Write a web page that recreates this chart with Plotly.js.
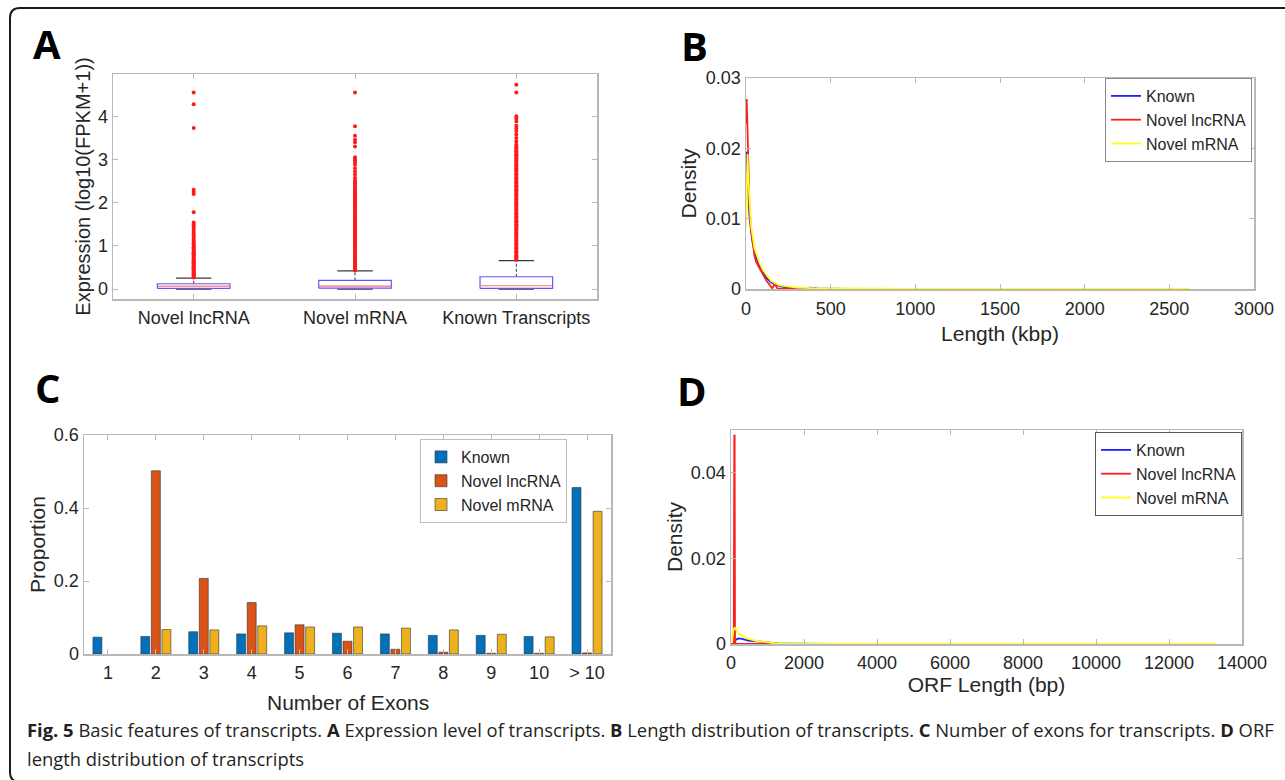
<!DOCTYPE html>
<html>
<head>
<meta charset="utf-8">
<script src="https://cdn.plot.ly/plotly-3.0.1.min.js"></script>
<style>html,body{margin:0;padding:0;background:#fff;}#chart{width:1285px;height:780px;}</style>
</head>
<body>
<div id="chart"></div>
<script>
// ---------------- DATA ----------------
// Panel A: expression boxplots (log10(FPKM+1))
const boxCategories = ["Novel lncRNA", "Novel mRNA", "Known Transcripts"];
const boxQ1 = [0.015, 0.023, 0.015];
const boxMedian = [0.07, 0.07, 0.077];
const boxQ3 = [0.123, 0.20, 0.285];
const boxWhiskerLow = [0, 0, 0];
const boxWhiskerHigh = [0.254, 0.423, 0.66];
const outliersLncRNA = [4.55, 4.28, 3.73, 2.30, 2.25, 2.20, 1.78, 1.54, 1.50, 1.46, 1.42, 1.37, 1.32, 1.27, 1.23, 1.19, 1.14, 1.10, 1.06, 1.03, 1.00, 0.97, 0.94, 0.91, 0.88, 0.85, 0.83, 0.81, 0.79, 0.77, 0.75, 0.72, 0.70, 0.68, 0.66, 0.64, 0.62, 0.60, 0.58, 0.56, 0.54, 0.52, 0.50, 0.48, 0.46, 0.44, 0.42, 0.40, 0.38, 0.36, 0.34, 0.32, 0.30, 0.28, 0.27];
const outliersMRNA = [4.55, 3.77, 3.55, 3.46, 3.40, 3.30, 3.05, 3.02, 2.98, 2.93, 2.88, 2.80, 2.72, 2.65, 2.58, 2.52, 2.48, 2.45, 2.40, 2.36, 2.32, 2.28, 2.25, 2.23,
  2.21, 2.18, 2.15, 2.13, 2.10, 2.06, 2.04, 2.01, 1.97, 1.95, 1.92, 1.88, 1.86, 1.83, 1.79, 1.77, 1.74, 1.70, 1.68, 1.65, 1.61, 1.59, 1.56, 1.52, 1.50, 1.47, 1.43, 1.41, 1.38, 1.34, 1.32, 1.29, 1.25, 1.23, 1.20, 1.16, 1.14, 1.11, 1.07, 1.05, 1.02, 0.98, 0.96, 0.93, 0.89, 0.87, 0.84, 0.80, 0.78, 0.75, 0.71, 0.69, 0.66, 0.62, 0.60, 0.57, 0.53, 0.51, 0.48, 0.45, 0.43];
const outliersKnown = [4.73, 4.55, 4.00, 3.95, 3.88, 3.78, 3.72, 3.66, 3.58, 3.50, 3.42, 3.35, 3.30, 3.27,
  3.25, 3.22, 3.19, 3.16, 3.12, 3.10, 3.07, 3.03, 3.01, 2.98, 2.94, 2.92, 2.89, 2.85, 2.83, 2.80, 2.76, 2.74, 2.71, 2.67, 2.65, 2.62, 2.58, 2.56, 2.53, 2.49, 2.47, 2.44, 2.40, 2.38, 2.35, 2.31, 2.29, 2.26, 2.22, 2.20, 2.17, 2.13, 2.11, 2.08, 2.04, 2.02, 1.99, 1.95, 1.93, 1.90, 1.86, 1.84, 1.81, 1.77, 1.75, 1.72, 1.68, 1.66, 1.63, 1.59, 1.57, 1.54, 1.50, 1.48, 1.45, 1.41, 1.39, 1.36, 1.32, 1.30, 1.27, 1.23, 1.21, 1.18, 1.14, 1.12, 1.09, 1.05, 1.03, 1.00, 0.96, 0.94, 0.91, 0.87, 0.85, 0.82, 0.78, 0.76, 0.73, 0.70, 0.68];

// Panel B: length density (kbp)
const lenKnownX = [0, 2, 5, 8, 12, 20, 30, 40, 60, 80, 100, 120, 150, 200, 250, 300, 350, 380, 420, 600, 900, 1300];
const lenKnownY = [0.0125, 0.017, 0.0195, 0.017, 0.014, 0.0105, 0.0082, 0.0065, 0.0045, 0.0033, 0.0024, 0.0016, 0.0009, 0.0004, 0.0002, 0.00015, 0.0001, 0.0002, 0.0001, 0.00003, 0.00001, 0];
const lenLncX = [0, 2, 4, 7, 10, 15, 20, 30, 40, 50, 60, 70, 80, 100, 120, 140, 155, 170, 185, 200, 250, 300, 400, 500];
const lenLncY = [0.0235, 0.0268, 0.027, 0.0245, 0.021, 0.0158, 0.012, 0.0085, 0.0062, 0.0047, 0.0038, 0.0034, 0.0031, 0.0021, 0.0012, 0.0005, 0.0001, 0.0007, 0.0001, 0.00005, 0.0001, 0.00002, 0.00002, 0];
const lenMrnaX = [0, 3, 6, 9, 13, 20, 30, 50, 80, 100, 150, 200, 250, 300, 400, 500, 700, 1000, 1500, 2000, 2620];
const lenMrnaY = [0.0088, 0.015, 0.0188, 0.0192, 0.016, 0.0122, 0.009, 0.0058, 0.0037, 0.0027, 0.0011, 0.0005, 0.0003, 0.0002, 0.00012, 0.0001, 0.00005, 0.00002, 0.00001, 0.00001, 0];

// Panel C: number of exons (no bar drawn where a group has no transcripts)
const exonCategories = ["1", "2", "3", "4", "5", "6", "7", "8", "9", "10", "> 10"];
const exonKnown = [0.046, 0.048, 0.061, 0.055, 0.058, 0.057, 0.055, 0.051, 0.051, 0.048, 0.456];
const exonLncRNA = [null, 0.502, 0.207, 0.141, 0.080, 0.035, 0.013, 0.005, 0.002, 0.002, 0.003];
const exonMRNA = [null, 0.067, 0.066, 0.077, 0.074, 0.074, 0.071, 0.066, 0.054, 0.047, 0.391];

// Panel D: ORF length density (bp)
const orfKnownX = [100, 120, 200, 300, 480, 700, 940, 1100, 1300, 1600, 2000, 3000, 5000];
const orfKnownY = [0, 0.0009, 0.0013, 0.0012, 0.0008, 0.0006, 0.0004, 0.0003, 0.00015, 0.0001, 0.00004, 0.00001, 0];
const orfLncX = [0, 75, 90, 100, 110, 150, 300, 600, 1000, 1500];
const orfLncY = [0, 0, 0.0487, 0.0487, 0.0003, 0, 0, 0, 0, 0];
const orfMrnaX = [30, 60, 100, 150, 210, 300, 400, 480, 700, 940, 1200, 1500, 2000, 3000, 5000, 8000, 11000, 13300];
const orfMrnaY = [0.0005, 0.003, 0.0039, 0.0033, 0.0024, 0.0019, 0.0015, 0.0012, 0.0007, 0.0004, 0.0002, 0.0001, 0.00004, 0.00001, 0, 0, 0, 0];

const seriesNames = ["Known", "Novel lncRNA", "Novel mRNA"];

// ---------------- LAYOUT HELPERS ----------------
const W = 1285, H = 780;
const px = v => v / W;
const py = v => 1 - v / H;
const dom = (l, r, t, b) => ({x: [px(l), px(r)], y: [py(b), py(t)]});
const dA = dom(113, 597, 74, 299);
const dB = dom(746, 1254, 78, 289);
const dC = dom(84, 611, 435, 654);
const dD = dom(731, 1242, 430, 644);

const txt = '#262626';
const axisGray = '#b8b8b8';
const tickFont = {family: 'Liberation Sans, Arial, sans-serif', size: 18, color: txt};
const titleFont = {family: 'Liberation Sans, Arial, sans-serif', size: 21, color: txt};

function baseAxis(extra) {
  return Object.assign({
    showline: true, mirror: 'ticks', linecolor: axisGray, linewidth: 1.5,
    ticks: 'inside', ticklen: 5, tickcolor: axisGray, tickwidth: 1,
    showgrid: false, zeroline: false, tickfont: tickFont, fixedrange: true,
    automargin: false
  }, extra);
}

// ---------------- TRACES ----------------
const traces = [];

// Panel A boxes built from the statistics arrays
const hw = 0.225, cw = 0.11;
const boxX = [], boxY = [], medX = [], medY = [], whX = [], whY = [], capX = [], capY = [];
boxCategories.forEach((c, i) => {
  const xc = i + 1;
  boxX.push(xc - hw, xc + hw, xc + hw, xc - hw, xc - hw, null);
  boxY.push(boxQ1[i], boxQ1[i], boxQ3[i], boxQ3[i], boxQ1[i], null);
  medX.push(xc - hw, xc + hw, null);
  medY.push(boxMedian[i], boxMedian[i], null);
  whX.push(xc, xc, null, xc, xc, null);
  whY.push(boxQ3[i], boxWhiskerHigh[i], null, boxQ1[i], boxWhiskerLow[i], null);
  capX.push(xc - cw, xc + cw, null, xc - cw, xc + cw, null);
  capY.push(boxWhiskerHigh[i], boxWhiskerHigh[i], null, boxWhiskerLow[i], boxWhiskerLow[i], null);
});
traces.push({type: 'scatter', mode: 'lines', x: whX, y: whY, xaxis: 'x', yaxis: 'y', showlegend: false, hoverinfo: 'skip',
  line: {color: '#3a3a3a', width: 1, dash: '3px,2px'}});
traces.push({type: 'scatter', mode: 'lines', x: capX, y: capY, xaxis: 'x', yaxis: 'y', showlegend: false, hoverinfo: 'skip',
  line: {color: '#3a3a3a', width: 1.2}});
const outX = [], outY = [];
[outliersLncRNA, outliersMRNA, outliersKnown].forEach((arr, i) => {
  arr.forEach(v => { outX.push(i + 1); outY.push(v); });
});
traces.push({type: 'scatter', mode: 'markers', x: outX, y: outY, xaxis: 'x', yaxis: 'y', showlegend: false,
  marker: {color: '#ff1a1a', size: 4, symbol: 'circle'}});
traces.push({type: 'scatter', mode: 'lines', x: boxX, y: boxY, xaxis: 'x', yaxis: 'y', showlegend: false, hoverinfo: 'skip',
  line: {color: '#5a5aff', width: 1.2}});
traces.push({type: 'scatter', mode: 'lines', x: medX, y: medY, xaxis: 'x', yaxis: 'y', showlegend: false, hoverinfo: 'skip',
  line: {color: '#ff7070', width: 1.2}});

// Panel B density lines
const lineColors = ['#1f1fff', '#ff1f1f', '#ffff1a'];
[[lenKnownX, lenKnownY], [lenLncX, lenLncY], [lenMrnaX, lenMrnaY]].forEach((s, i) => {
  traces.push({type: 'scatter', mode: 'lines', x: s[0], y: s[1], name: seriesNames[i], xaxis: 'x2', yaxis: 'y2',
    legend: 'legend', line: {color: lineColors[i], width: 1.8}});
});

// Panel C bars
const barColors = ['#0072BD', '#D95319', '#EDB120'];
[exonKnown, exonLncRNA, exonMRNA].forEach((vals, i) => {
  traces.push({type: 'bar', x: exonCategories, y: vals, name: seriesNames[i], xaxis: 'x3', yaxis: 'y3',
    legend: 'legend2', marker: {color: barColors[i], line: {color: '#333333', width: 0.6}}});
});

// Panel D density lines
[[orfKnownX, orfKnownY], [orfLncX, orfLncY], [orfMrnaX, orfMrnaY]].forEach((s, i) => {
  traces.push({type: 'scatter', mode: 'lines', x: s[0], y: s[1], name: seriesNames[i], xaxis: 'x4', yaxis: 'y4',
    legend: 'legend3', line: {color: lineColors[i], width: 1.8}});
});

// ---------------- LAYOUT ----------------
const legendFont = {family: 'Liberation Sans, Arial, sans-serif', size: 16, color: txt};
function legendAt(xr, yt, border) {
  return {x: xr, y: yt, xanchor: 'right', yanchor: 'top', xref: 'paper', yref: 'paper',
    bgcolor: '#ffffff', bordercolor: border, borderwidth: 1, font: legendFont,
    itemwidth: 30, tracegroupgap: 0, itemclick: false, itemdoubleclick: false};
}

const letterFont = {family: 'Open Sans, sans-serif', size: 40, color: '#000000', weight: 700};
const capFont = {family: 'Open Sans, sans-serif', size: 18.4, color: '#231f20'};
function letter(t, x, y) {
  return {text: '<b>' + t + '</b>', x: px(x), y: py(y), xref: 'paper', yref: 'paper', showarrow: false,
    xanchor: 'center', yanchor: 'middle', font: letterFont};
}

// Frame: rounded top-left / bottom-left corners (bottom edge falls just outside the picture)
const fl = 10, ft = 8, fb = 782, r = 10;
const framePath = 'M ' + px(1300) + ' ' + py(ft) + ' L ' + px(fl + r) + ' ' + py(ft) +
  ' Q ' + px(fl) + ' ' + py(ft) + ' ' + px(fl) + ' ' + py(ft + r) +
  ' L ' + px(fl) + ' ' + py(fb - r) +
  ' Q ' + px(fl) + ' ' + py(fb) + ' ' + px(fl + r) + ' ' + py(fb) +
  ' L ' + px(1300) + ' ' + py(fb);

const layout = {
  width: W, height: H,
  margin: {l: 0, r: 0, t: 0, b: 0},
  paper_bgcolor: '#ffffff', plot_bgcolor: '#ffffff',
  font: {family: 'Liberation Sans, Arial, sans-serif', color: txt},
  barmode: 'group', bargap: 0.34, bargroupgap: 0.15,
  showlegend: true,
  xaxis: baseAxis({domain: dA.x, anchor: 'y', range: [0.5, 3.5], tickvals: [1, 2, 3], ticktext: boxCategories, ticklabelstandoff: 2}),
  yaxis: baseAxis({domain: dA.y, anchor: 'x', range: [-0.23, 4.98], dtick: 1, tick0: 0,
    title: {text: 'Expression (log10(FPKM+1))', font: Object.assign({}, titleFont, {size: 20}), standoff: 2}}),
  xaxis2: baseAxis({domain: dB.x, anchor: 'y2', range: [0, 3000], dtick: 500, tick0: 0, tickformat: 'd', ticklabelstandoff: 3,
    title: {text: 'Length (kbp)', font: titleFont, standoff: 8}}),
  yaxis2: baseAxis({domain: dB.y, anchor: 'x2', range: [0, 0.03], dtick: 0.01, tick0: 0,
    title: {text: 'Density', font: titleFont, standoff: 3}}),
  xaxis3: baseAxis({domain: dC.x, anchor: 'y3', type: 'category', range: [-0.5, 10.5], ticklabelstandoff: 2}),
  yaxis3: baseAxis({domain: dC.y, anchor: 'x3', range: [0, 0.6], dtick: 0.2, tick0: 0,
    title: {text: 'Proportion', font: titleFont, standoff: 2}}),
  xaxis4: baseAxis({domain: dD.x, anchor: 'y4', range: [0, 14000], dtick: 2000, tick0: 0, tickformat: 'd', ticklabelstandoff: 2,
    title: {text: 'ORF Length (bp)', font: titleFont, standoff: 5}}),
  yaxis4: baseAxis({domain: dD.y, anchor: 'x4', range: [0, 0.05], dtick: 0.02, tick0: 0,
    title: {text: 'Density', font: titleFont, standoff: 2}}),
  legend: legendAt(px(1252), py(78), '#8a8a8a'),
  legend2: legendAt(px(567), py(439), '#bdbdbd'),
  legend3: legendAt(px(1242), py(432), '#5a5a5a'),
  annotations: [
    letter('A', 47, 43), letter('B', 694, 45), letter('C', 48, 387), letter('D', 692, 390),
    {text: 'Number of Exons', x: px(348), y: py(702), xref: 'paper', yref: 'paper', showarrow: false,
      xanchor: 'center', yanchor: 'middle', font: titleFont},
    {text: '<b>Fig. 5</b> Basic features of transcripts. <b>A</b> Expression level of transcripts. <b>B</b> Length distribution of transcripts. <b>C</b> Number of exons for transcripts. <b>D</b> ORF',
      x: px(25), y: py(729), xref: 'paper', yref: 'paper', showarrow: false, xanchor: 'left', yanchor: 'middle', font: capFont},
    {text: 'length distribution of transcripts',
      x: px(25), y: py(758), xref: 'paper', yref: 'paper', showarrow: false, xanchor: 'left', yanchor: 'middle', font: capFont}
  ],
  shapes: [
    {type: 'path', xref: 'paper', yref: 'paper', path: framePath, line: {color: '#1a1a1a', width: 2}, fillcolor: 'rgba(0,0,0,0)'}
  ]
};

Plotly.newPlot('chart', traces, layout, {displayModeBar: false, staticPlot: true});
</script>
</body>
</html>
